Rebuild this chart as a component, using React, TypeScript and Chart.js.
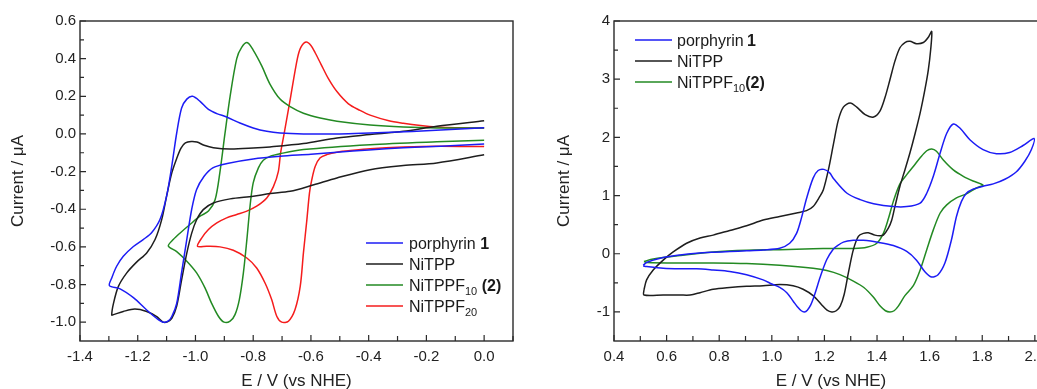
import React, { useEffect, useRef } from "react";
import { Chart, registerables } from "chart.js";

Chart.register(...registerables);

// ---------------- Data: left panel (reduction) ----------------
const LEFT_X_TICKS = [-1.4, -1.2, -1.0, -0.8, -0.6, -0.4, -0.2, 0.0];
const LEFT_Y_TICKS = [-1.0, -0.8, -0.6, -0.4, -0.2, 0.0, 0.2, 0.4, 0.6];

const L_BLUE_E = [0.0, -0.1, -0.2, -0.28, -0.4, -0.51, -0.6, -0.707, -0.8, -0.89, -0.94, -0.97, -0.996, -1.013, -1.03, -1.048, -1.065, -1.082, -1.095, -1.112, -1.134, -1.169, -1.215, -1.261, -1.298,
  -1.29, -1.273, -1.25, -1.215, -1.18, -1.152, -1.123, -1.1, -1.082, -1.065, -1.048, -1.03, -1.01, -0.984, -0.955, -0.926, -0.892, -0.846, -0.8, -0.753, -0.707, -0.626, -0.5, -0.395, -0.3, -0.2, -0.1, 0.0];
const L_BLUE_I = [-0.053, -0.062, -0.068, -0.074, -0.085, -0.097, -0.108, -0.119, -0.133, -0.157, -0.18, -0.225, -0.295, -0.4, -0.56, -0.735, -0.9, -0.97, -0.995, -1.0, -0.98, -0.935, -0.87, -0.823, -0.806,
  -0.765, -0.703, -0.65, -0.598, -0.56, -0.525, -0.455, -0.33, -0.17, 0.005, 0.138, 0.185, 0.2, 0.173, 0.13, 0.108, 0.09, 0.058, 0.032, 0.014, 0.005, 0.0, 0.0, 0.005, 0.01, 0.017, 0.025, 0.033];

const L_BLACK_E = [0.0, -0.164, -0.28, -0.395, -0.51, -0.59, -0.672, -0.742, -0.8, -0.88, -0.938, -0.973, -0.996, -1.013, -1.03, -1.048, -1.065, -1.082, -1.097, -1.112, -1.134, -1.169, -1.21, -1.25, -1.284, -1.29,
  -1.284, -1.267, -1.238, -1.204, -1.169, -1.14, -1.117, -1.1, -1.082, -1.065, -1.05, -1.035, -1.015, -0.995, -0.97, -0.938, -0.88, -0.8, -0.742, -0.626, -0.51, -0.395, -0.28, -0.164, 0.0];
const L_BLACK_I = [-0.111, -0.154, -0.168, -0.19, -0.234, -0.27, -0.305, -0.317, -0.331, -0.345, -0.367, -0.402, -0.456, -0.527, -0.633, -0.775, -0.915, -0.98, -0.998, -1.0, -0.97, -0.943, -0.93, -0.943, -0.96, -0.962,
  -0.9, -0.81, -0.738, -0.681, -0.632, -0.561, -0.455, -0.33, -0.207, -0.13, -0.075, -0.048, -0.04, -0.043, -0.06, -0.073, -0.08, -0.075, -0.069, -0.051, -0.021, -0.003, 0.014, 0.041, 0.07];

const L_GREEN_E = [0.0, -0.164, -0.395, -0.626, -0.707, -0.742, -0.765, -0.782, -0.8, -0.811, -0.822, -0.834, -0.848, -0.863, -0.88, -0.901, -0.92, -0.944, -0.967, -0.996, -1.03, -1.065, -1.094,
  -1.077, -1.053, -1.019, -0.984, -0.955, -0.932, -0.915, -0.898, -0.88, -0.857, -0.84, -0.82, -0.8, -0.77, -0.742, -0.707, -0.672, -0.626, -0.568, -0.51, -0.395, -0.28, -0.164, 0.0];
const L_GREEN_I = [-0.034, -0.042, -0.057, -0.083, -0.105, -0.119, -0.14, -0.18, -0.26, -0.384, -0.563, -0.738, -0.88, -0.96, -0.995, -1.0, -0.97, -0.9, -0.818, -0.738, -0.676, -0.625, -0.595,
  -0.561, -0.526, -0.481, -0.437, -0.41, -0.35, -0.2, 0.0, 0.2, 0.4, 0.46, 0.485, 0.445, 0.36, 0.265, 0.185, 0.145, 0.11, 0.085, 0.068, 0.048, 0.037, 0.032, 0.032];

const L_RED_E = [0.0, -0.164, -0.28, -0.395, -0.453, -0.51, -0.545, -0.568, -0.585, -0.597, -0.605, -0.614, -0.626, -0.637, -0.655, -0.678, -0.701, -0.718, -0.736, -0.759, -0.788, -0.822, -0.869, -0.915, -0.961, -0.993,
  -0.978, -0.955, -0.926, -0.892, -0.857, -0.822, -0.788, -0.753, -0.73, -0.713, -0.705, -0.693, -0.67, -0.647, -0.635, -0.617, -0.6, -0.585, -0.565, -0.54, -0.51, -0.47, -0.43, -0.395, -0.33, -0.28, -0.22, -0.164, -0.1, 0.0];
const L_RED_I = [-0.067, -0.065, -0.07, -0.079, -0.087, -0.097, -0.11, -0.127, -0.172, -0.243, -0.313, -0.455, -0.632, -0.809, -0.933, -0.995, -1.0, -0.97, -0.88, -0.792, -0.712, -0.659, -0.618, -0.6, -0.597, -0.597,
  -0.552, -0.508, -0.473, -0.446, -0.428, -0.41, -0.384, -0.34, -0.28, -0.2, -0.1, 0.0, 0.2, 0.4, 0.46, 0.488, 0.47, 0.43, 0.37, 0.295, 0.225, 0.16, 0.125, 0.1, 0.07, 0.057, 0.045, 0.037, 0.033, 0.032];

// ---------------- Data: right panel (oxidation) ----------------
const RIGHT_X_TICKS = [0.4, 0.6, 0.8, 1.0, 1.2, 1.4, 1.6, 1.8, 2.0];
const RIGHT_Y_TICKS = [-1, 0, 1, 2, 3, 4];

const R_BLUE_E = [0.511, 0.524, 0.587, 0.651, 0.714, 0.777, 0.84, 0.904, 0.967, 1.03, 1.068, 1.094, 1.113, 1.132, 1.157, 1.176, 1.198, 1.22, 1.235, 1.286, 1.336, 1.387, 1.462, 1.513, 1.564, 1.589, 1.614, 1.64, 1.665, 1.69, 1.715, 1.753, 1.803, 1.854, 1.904, 1.955, 1.997,
  1.987, 1.962, 1.93, 1.886, 1.842, 1.803, 1.765, 1.74, 1.721, 1.702, 1.683, 1.658, 1.632, 1.607, 1.582, 1.55, 1.513, 1.462, 1.411, 1.348, 1.31, 1.272, 1.247, 1.234, 1.209, 1.184, 1.163, 1.148, 1.135, 1.124, 1.112, 1.097, 1.082, 1.057, 1.03, 1.0, 0.967, 0.904, 0.84, 0.777, 0.714, 0.651, 0.587, 0.524, 0.511];
const R_BLUE_I = [-0.2, -0.15, -0.066, -0.02, 0.01, 0.026, 0.037, 0.05, 0.066, 0.095, 0.18, 0.35, 0.62, 0.95, 1.3, 1.43, 1.45, 1.39, 1.29, 1.04, 0.93, 0.86, 0.81, 0.81, 0.87, 1.04, 1.33, 1.73, 2.07, 2.23, 2.16, 1.96, 1.79, 1.72, 1.74, 1.86, 1.98,
  1.79, 1.59, 1.41, 1.28, 1.2, 1.16, 1.11, 1.04, 0.9, 0.64, 0.24, -0.16, -0.36, -0.4, -0.31, -0.11, 0.04, 0.14, 0.19, 0.23, 0.23, 0.2, 0.13, 0.08, -0.1, -0.4, -0.7, -0.88, -0.97, -1.0, -0.98, -0.91, -0.82, -0.67, -0.58, -0.52, -0.45, -0.36, -0.305, -0.28, -0.26, -0.26, -0.25, -0.22, -0.21];

const R_BLACK_E = [0.514, 0.524, 0.549, 0.587, 0.625, 0.676, 0.727, 0.777, 0.84, 0.904, 0.967, 1.03, 1.094, 1.132, 1.157, 1.182, 1.196, 1.215, 1.235, 1.253, 1.272, 1.298, 1.323, 1.355, 1.387, 1.411, 1.43, 1.449, 1.468, 1.487, 1.506, 1.525, 1.55, 1.576, 1.595, 1.608,
  1.604, 1.595, 1.582, 1.564, 1.545, 1.525, 1.506, 1.487, 1.468, 1.456, 1.443, 1.424, 1.411, 1.392, 1.367, 1.348, 1.329, 1.31, 1.291, 1.275, 1.26, 1.245, 1.228, 1.21, 1.19, 1.157, 1.119, 1.081, 1.03, 0.967, 0.904, 0.84, 0.777, 0.727, 0.689, 0.651, 0.587, 0.514, 0.514];
const R_BLACK_I = [-0.62, -0.45, -0.28, -0.11, 0.03, 0.18, 0.27, 0.32, 0.4, 0.48, 0.58, 0.64, 0.7, 0.74, 0.81, 0.98, 1.1, 1.44, 1.9, 2.3, 2.52, 2.59, 2.52, 2.39, 2.35, 2.45, 2.68, 2.99, 3.31, 3.54, 3.63, 3.65, 3.61, 3.63, 3.72, 3.82,
  3.51, 3.16, 2.82, 2.42, 2.07, 1.73, 1.44, 1.16, 0.81, 0.58, 0.44, 0.32, 0.31, 0.32, 0.36, 0.35, 0.3, 0.07, -0.33, -0.7, -0.9, -0.98, -1.0, -0.97, -0.88, -0.72, -0.61, -0.55, -0.53, -0.55, -0.56, -0.58, -0.61, -0.67, -0.71, -0.71, -0.71, -0.71, -0.62];

const R_GREEN_E = [0.514, 0.549, 0.651, 0.777, 0.904, 1.03, 1.157, 1.233, 1.31, 1.361, 1.399, 1.424, 1.443, 1.462, 1.487, 1.513, 1.538, 1.564, 1.589, 1.608, 1.626, 1.652, 1.69, 1.728, 1.765, 1.803,
  1.778, 1.74, 1.702, 1.665, 1.64, 1.614, 1.589, 1.564, 1.538, 1.506, 1.481, 1.465, 1.449, 1.432, 1.412, 1.385, 1.35, 1.31, 1.259, 1.209, 1.157, 1.03, 0.904, 0.777, 0.651, 0.524, 0.514];
const R_GREEN_I = [-0.134, -0.09, -0.03, 0.03, 0.06, 0.07, 0.085, 0.09, 0.09, 0.11, 0.18, 0.35, 0.6, 0.9, 1.2, 1.36, 1.5, 1.65, 1.77, 1.8, 1.76, 1.61, 1.44, 1.33, 1.25, 1.18,
  1.13, 1.03, 0.96, 0.84, 0.7, 0.41, 0.07, -0.28, -0.55, -0.72, -0.9, -0.98, -1.0, -0.98, -0.9, -0.74, -0.58, -0.47, -0.36, -0.29, -0.25, -0.2, -0.17, -0.16, -0.16, -0.15, -0.134];

// ---------------- Labels ----------------
const X_TITLE = "E / V (vs NHE)";
const Y_TITLE = "Current / \u03bcA";
const LABEL_PORPHYRIN = "porphyrin 1";
const LABEL_NITPP = "NiTPP";
const LABEL_F10 = "NiTPPF10 (2)";
const LABEL_F20 = "NiTPPF20";

const LEFT_LEGEND = [
  [{ t: "porphyrin " }, { t: "1", b: true }],
  [{ t: "NiTPP" }],
  [{ t: "NiTPPF" }, { t: "10", sub: true }, { t: " (", b: true }, { t: "2", b: true }, { t: ")", b: true }],
  [{ t: "NiTPPF" }, { t: "20", sub: true }],
];
const RIGHT_LEGEND = [
  [{ t: "porphyrin\u2009" }, { t: "1", b: true }],
  [{ t: "NiTPP" }],
  [{ t: "NiTPPF" }, { t: "10", sub: true }, { t: "(", b: true }, { t: "2", b: true }, { t: ")", b: true }],
];

const BLUE = "#1c1cf5";
const BLACK = "#1e1e1e";
const GREEN = "#238a23";
const RED = "#f51c1c";
const FONT = "'Liberation Sans', Arial, sans-serif";

const zip = (xs: number[], ys: number[]) => xs.map((x, i) => ({ x, y: ys[i] }));

const mids = (arr: number[], lo: number, hi: number) => {
  const out: number[] = [];
  const step = arr[1] - arr[0];
  for (let i = 0; i < arr.length; i++) {
    const a = arr[i] - step / 2;
    const b = arr[i] + step / 2;
    if (i === 0 && a > lo) out.push(a);
    if (b < hi) out.push(b);
  }
  return out;
};

const framePlugin = {
  id: "frameTicks",
  afterDraw(chart: any) {
    const { ctx, chartArea: a, scales } = chart;
    const xs = scales.x;
    const ys = scales.y;
    ctx.save();
    ctx.strokeStyle = "#2a2a2a";
    ctx.lineWidth = 1.4;
    ctx.strokeRect(a.left, a.top, a.right - a.left, a.bottom - a.top);
    ctx.lineWidth = 1.2;
    const xt = (xs.ticks || []).map((t: any) => t.value);
    const yt = (ys.ticks || []).map((t: any) => t.value);
    ctx.beginPath();
    xt.forEach((v: number) => {
      const p = xs.getPixelForValue(v);
      ctx.moveTo(p, a.bottom);
      ctx.lineTo(p, a.bottom - 6);
    });
    mids(xt, xs.min, xs.max).forEach((v) => {
      const p = xs.getPixelForValue(v);
      ctx.moveTo(p, a.bottom);
      ctx.lineTo(p, a.bottom - 5);
    });
    yt.forEach((v: number) => {
      const p = ys.getPixelForValue(v);
      ctx.moveTo(a.left, p);
      ctx.lineTo(a.left + 6, p);
    });
    mids(yt, ys.min, ys.max).forEach((v) => {
      const p = ys.getPixelForValue(v);
      ctx.moveTo(a.left, p);
      ctx.lineTo(a.left + 4, p);
    });
    ctx.stroke();
    ctx.restore();
  },
};

const legendPlugin = {
  id: "cvLegend",
  afterDraw(chart: any, _args: any, opts: any) {
    const { ctx } = chart;
    const { x, y, row, len, gap, items } = opts;
    const ds = chart.data.datasets;
    ctx.save();
    items.forEach((parts: any[], i: number) => {
      const yy = y + i * row;
      ctx.strokeStyle = ds[i].borderColor;
      ctx.lineWidth = 1.5;
      ctx.beginPath();
      ctx.moveTo(x, yy);
      ctx.lineTo(x + len, yy);
      ctx.stroke();
      let tx = x + len + gap;
      const base = yy + 5.8;
      ctx.fillStyle = "#1a1a1a";
      ctx.textBaseline = "alphabetic";
      ctx.textAlign = "left";
      parts.forEach((p: any) => {
        const size = p.sub ? 11 : 16;
        ctx.font = `${p.b ? "bold " : ""}${size}px ${FONT}`;
        ctx.fillText(p.t, tx, p.sub ? base + 4 : base);
        tx += ctx.measureText(p.t).width;
      });
    });
    ctx.restore();
  },
};

function makeConfig(
  sets: { label: string; color: string; e: number[]; i: number[] }[],
  xr: [number, number], yr: [number, number], xt: number[], yt: number[],
  fmtX: (v: number) => string, fmtY: (v: number) => string,
  padding: any, yWidth: number, legend: any
) {
  return {
    type: "scatter" as const,
    data: {
      datasets: sets.map((s) => ({
        label: s.label,
        data: zip(s.e, s.i),
        showLine: true,
        borderColor: s.color,
        backgroundColor: s.color,
        borderWidth: 1.5,
        pointRadius: 0,
        pointHoverRadius: 0,
        tension: 0.3,
        fill: false,
      })),
    },
    options: {
      animation: false,
      responsive: false,
      layout: { padding },
      events: [],
      plugins: {
        legend: { display: false },
        tooltip: { enabled: false },
        cvLegend: legend,
      },
      scales: {
        x: {
          type: "linear",
          min: xr[0],
          max: xr[1],
          afterBuildTicks: (s: any) => { s.ticks = xt.map((v) => ({ value: v })); },
          afterFit: (s: any) => { s.height = 48; },
          grid: { display: false, drawTicks: false },
          border: { display: false },
          ticks: {
            color: "#222",
            font: { family: FONT, size: 15 },
            padding: 7,
            maxRotation: 0,
            autoSkip: false,
            callback: (v: any) => fmtX(Number(v)),
          },
          title: {
            display: true,
            text: X_TITLE,
            color: "#222",
            padding: 0,
            font: { family: FONT, size: 17, lineHeight: "16px" },
          },
        },
        y: {
          type: "linear",
          min: yr[0],
          max: yr[1],
          afterBuildTicks: (s: any) => { s.ticks = yt.map((v) => ({ value: v })); },
          afterFit: (s: any) => { s.width = yWidth; },
          grid: { display: false, drawTicks: false },
          border: { display: false },
          ticks: {
            color: "#222",
            font: { family: FONT, size: 15 },
            padding: 4,
            autoSkip: false,
            callback: (v: any) => fmtY(Number(v)),
          },
          title: {
            display: true,
            text: Y_TITLE,
            color: "#222",
            padding: 0,
            font: { family: FONT, size: 17, lineHeight: "20px" },
          },
        },
      },
    },
    plugins: [framePlugin, legendPlugin],
  };
}

export default function App() {
  const leftRef = useRef<HTMLCanvasElement | null>(null);
  const rightRef = useRef<HTMLCanvasElement | null>(null);

  useEffect(() => {
    const leftCfg: any = makeConfig(
      [
        { label: LABEL_PORPHYRIN, color: BLUE, e: L_BLUE_E, i: L_BLUE_I },
        { label: LABEL_NITPP, color: BLACK, e: L_BLACK_E, i: L_BLACK_I },
        { label: LABEL_F10, color: GREEN, e: L_GREEN_E, i: L_GREEN_I },
        { label: LABEL_F20, color: RED, e: L_RED_E, i: L_RED_I },
      ],
      [-1.4, 0.1], [-1.1, 0.6], LEFT_X_TICKS, LEFT_Y_TICKS,
      (v) => v.toFixed(1), (v) => v.toFixed(1),
      { left: 8, right: 7, top: 21, bottom: 0 }, 72,
      { x: 366, y: 243, row: 21, len: 37, gap: 6, items: LEFT_LEGEND }
    );
    const rightCfg: any = makeConfig(
      [
        { label: LABEL_PORPHYRIN, color: BLUE, e: R_BLUE_E, i: R_BLUE_I },
        { label: LABEL_NITPP, color: BLACK, e: R_BLACK_E, i: R_BLACK_I },
        { label: LABEL_F10, color: GREEN, e: R_GREEN_E, i: R_GREEN_I },
      ],
      [0.4, 2.05], [-1.5, 4], RIGHT_X_TICKS, RIGHT_Y_TICKS,
      (v) => v.toFixed(1), (v) => String(Math.round(v)),
      { left: 34, right: 32, top: 21, bottom: 0 }, 60,
      { x: 115, y: 40, row: 21, len: 37, gap: 5, items: RIGHT_LEGEND }
    );
    const c1 = new Chart(leftRef.current as HTMLCanvasElement, leftCfg);
    const c2 = new Chart(rightRef.current as HTMLCanvasElement, rightCfg);
    return () => {
      c1.destroy();
      c2.destroy();
    };
  }, []);

  return (
    <div style={{ position: "fixed", left: 0, top: 0, width: 1037, height: 389, overflow: "hidden", background: "#fff" }}>
      <canvas ref={leftRef} width={520} height={389} style={{ position: "absolute", left: 0, top: 0, width: 520, height: 389 }} />
      <canvas ref={rightRef} width={560} height={389} style={{ position: "absolute", left: 520, top: 0, width: 560, height: 389 }} />
    </div>
  );
}
